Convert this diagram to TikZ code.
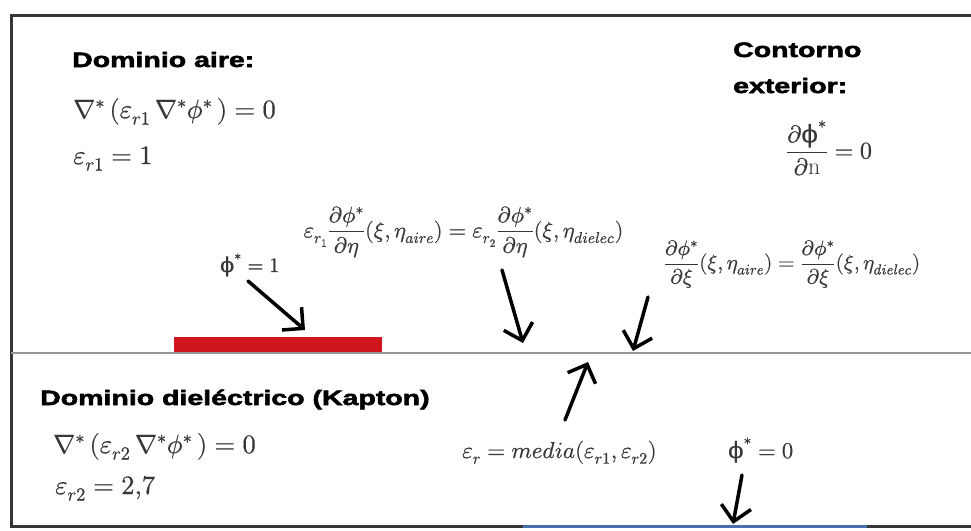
\documentclass[tikz,border=0pt]{standalone}
\usepackage{fontspec}
\usepackage{unicode-math}
\setmathfont{Latin Modern Math}[FakeBold=0.6]
\usetikzlibrary{arrows.meta}
\newfontfamily\hd[FakeStretch=1.37,FakeBold=2.6]{Liberation Sans}
\newfontfamily\dvs[FakeBold=0.6]{DejaVu Serif}
\definecolor{framec}{RGB}{55,55,55}
\definecolor{ifc}{RGB}{150,150,150}
\definecolor{elec}{RGB}{208,22,28}
\definecolor{gnd}{RGB}{75,110,175}
\definecolor{eqc}{RGB}{55,55,55}
\newcommand{\uphi}{\mbox{\dvs ϕ}}
\tikzset{
  heading/.style={font=\hd\bfseries\fontsize{20.8}{24}\selectfont, inner sep=0pt, anchor=base west},
  bigeq/.style={font=\fontsize{26.5}{30}\selectfont, text=eqc, inner sep=0pt, anchor=base west},
  eqn/.style={text=eqc, inner sep=0pt},
  handarrow/.style={line width=3.5pt, black, line cap=round, -{Straight Barb[length=15pt,width=30pt,line width=3.5pt]}},
}
\begin{document}
\begin{tikzpicture}[x=1pt,y=-1pt]
\useasboundingbox (0,0) rectangle (971,530);
% frame
\draw[framec, line width=3pt] (975,15) -- (11,15) -- (11,526.5) -- (975,526.5);
% interface
\draw[ifc, line width=2.5pt] (11,353) -- (975,353);
% electrode
\fill[elec] (174,337) rectangle (382,352);
% ground
\draw[gnd, line width=3pt] (523,526.5) -- (867,526.5);

% texts
\node[heading] (aire) at (72,67) {Dominio aire:};
\node[bigeq] (eqaire) at (73,118) {$\nabla^{*}\,(\varepsilon_{r1}\,\nabla^{*}\phi^{*}\,) = 0$};
\node[bigeq] (epsaire) at (73,164) {$\varepsilon_{r1} = 1$};

\node[heading] (cont1) at (733,57) {Contorno};
\node[heading] (cont2) at (733,93) {exterior:};
\node[eqn, font=\fontsize{24}{28}\selectfont] (dn) at (829,148) {$\dfrac{\partial\text{\uphi}^{*}}{\partial\mathrm{n}} = 0$};

\node[eqn, font=\fontsize{20.5}{24}\selectfont, anchor=base west] (phi1) at (220,272) {$\text{\uphi}^{*} = 1$};

\node[eqn, font=\fontsize{22.3}{26}\selectfont] (cont) at (463.5,232) {$\varepsilon_{r_1}\dfrac{\partial\phi^{*}}{\partial\eta}(\xi,\eta_{aire}) = \varepsilon_{r_2}\dfrac{\partial\phi^{*}}{\partial\eta}(\xi,\eta_{dielec})$};

\node[eqn, font=\fontsize{21}{25}\selectfont] (tang) at (792,264) {$\dfrac{\partial\phi^{*}}{\partial\xi}(\xi,\eta_{aire}) = \dfrac{\partial\phi^{*}}{\partial\xi}(\xi,\eta_{dielec})$};

\node[heading] (diel) at (40,405) {Dominio dieléctrico (Kapton)};
\node[bigeq] (eqdiel) at (53,453) {$\nabla^{*}\,(\varepsilon_{r2}\,\nabla^{*}\phi^{*}\,) = 0$};
\node[bigeq] (epsdiel) at (55,494) {$\varepsilon_{r2} = 2{,}7$};

\node[eqn, font=\fontsize{23}{27}\selectfont, anchor=base west] (media) at (462,458) {$\varepsilon_{r} = media(\varepsilon_{r1},\varepsilon_{r2})$};
\node[eqn, font=\fontsize{22.5}{26}\selectfont, anchor=base west] (phi0) at (728,458) {$\text{\uphi}^{*} = 0$};

% arrows
\coordinate (a1s) at (248,281); \coordinate (a1e) at (305,330);
\coordinate (a2s) at (502,270); \coordinate (a2e) at (523,343);
\coordinate (a3s) at (648,297); \coordinate (a3e) at (633,351);
\coordinate (a4s) at (565,420); \coordinate (a4e) at (588,362);
\coordinate (a5s) at (742,475); \coordinate (a5e) at (733,524);
\draw[handarrow] (a1s) -- (a1e);
\draw[handarrow] (a2s) -- (a2e);
\draw[handarrow] (a3s) -- (a3e);
\draw[handarrow] (a4s) -- (a4e);
\draw[handarrow] (a5s) -- (a5e);
\end{tikzpicture}
\end{document}
